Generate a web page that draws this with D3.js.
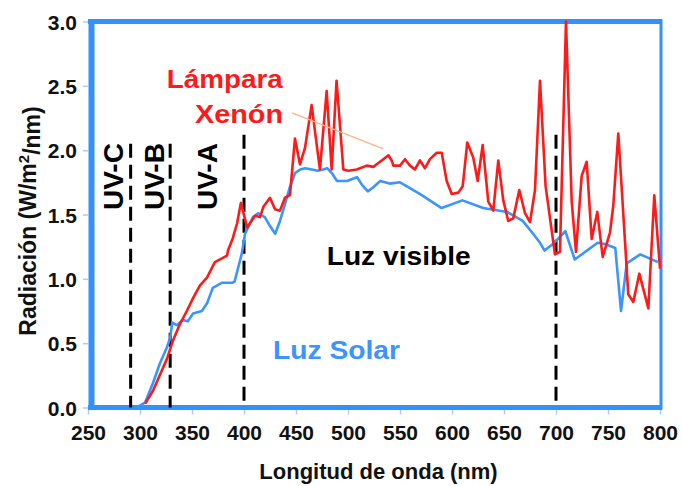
<!DOCTYPE html>
<html>
<head>
<meta charset="utf-8">
<script src="https://cdn.jsdelivr.net/npm/d3@7"></script>
<style>
  body { margin: 0; background: #fff; }
  text { font-family: "Liberation Sans", Arial, Helvetica, sans-serif; font-weight: bold; }
</style>
</head>
<body>
<svg id="chart" width="682" height="486"></svg>
<script>
// Solar spectrum (nm, W/m²/nm)
const solarNm = [297, 305, 312.5, 319, 326, 329, 331, 335.5, 341, 346, 351, 359.5, 364.5, 370, 379, 389, 391,
  398, 401, 404, 408.7, 413.5, 420, 425, 430, 434.6, 439.4, 444, 449, 454, 458.7, 465.4, 471, 476, 480,
  484.6, 489.4, 499, 508.7, 513.5, 519, 524, 531, 540, 550, 569, 590, 610, 630, 653, 668, 678, 684.6, 689,
  697, 709, 718, 740, 747, 757, 762.5, 768, 781, 798];
const solarVal = [0.00, 0.04, 0.19, 0.34, 0.47, 0.54, 0.66, 0.64, 0.68, 0.67, 0.73, 0.75, 0.81, 0.93, 0.97, 0.97, 0.98,
  1.20, 1.35, 1.40, 1.48, 1.51, 1.48, 1.41, 1.35, 1.45, 1.58, 1.71, 1.82, 1.85, 1.86, 1.85, 1.84, 1.85, 1.86,
  1.82, 1.76, 1.76, 1.79, 1.73, 1.68, 1.71, 1.76, 1.74, 1.75, 1.66, 1.55, 1.61, 1.55, 1.52, 1.45, 1.35, 1.28, 1.22,
  1.27, 1.37, 1.15, 1.28, 1.27, 1.24, 0.75, 1.12, 1.19, 1.13];

// Xenon lamp spectrum (nm, W/m²/nm)
const xenonNm = [305, 312.5, 319, 326, 331.7, 338.5, 345, 351, 357.7, 364.4, 372, 383.7, 384.6, 389.4, 393.3, 397,
  403, 410.6, 415.4, 418.6, 425, 429.8, 434.6, 439.4, 444.2, 449, 453.8, 458.7, 465, 473, 479.5, 484.3, 489,
  495.5, 500.3, 508.4, 518, 524.4, 527.6, 534, 538.8, 542, 543.6, 550, 554.8, 559.6, 564.4, 569.2, 574, 578.8,
  585.3, 590.1, 594.9, 599.7, 606.1, 610.3, 614.7, 620.5, 624.7, 629.5, 634.9, 639.7, 644.5, 649.3, 654.1,
  658.9, 664.7, 670.2, 675, 679.8, 684.6, 690, 699, 703.8, 709.6, 715.1, 719.2, 724.7, 729.5, 734.3, 739.7,
  744.9, 751.9, 755.1, 759.9, 769.5, 774.3, 780.1, 788.8, 794.5, 800];
const xenonVal = [0.03, 0.13, 0.25, 0.38, 0.52, 0.65, 0.75, 0.85, 0.95, 1.01, 1.13, 1.18, 1.22, 1.32, 1.43, 1.59,
  1.40, 1.49, 1.48, 1.56, 1.63, 1.54, 1.53, 1.63, 1.65, 2.09, 1.89, 2.02, 2.35, 1.85, 2.46, 1.85, 2.54,
  1.85, 1.84, 1.85, 1.88, 1.87, 1.89, 1.93, 1.96, 1.92, 1.88, 1.88, 1.93, 1.88, 1.85, 1.92, 1.86, 1.93,
  1.98, 1.98, 1.76, 1.66, 1.67, 1.72, 2.06, 1.94, 1.76, 2.04, 1.60, 1.53, 1.92, 1.61, 1.45,
  1.47, 1.69, 1.51, 1.44, 1.69, 2.54, 1.72, 1.19, 1.21, 3.00, 1.60, 1.21, 1.80, 1.91, 1.31, 1.52,
  1.17, 1.36, 1.57, 2.13, 0.88, 0.82, 1.04, 0.77, 1.65, 1.08];

const xTicks = [250, 300, 350, 400, 450, 500, 550, 600, 650, 700, 750, 800];
const yTicks = [0, 0.5, 1, 1.5, 2, 2.5, 3];

// Band boundaries (dashed) and their labels
const bandEdges = [291, 329, 400, 700];
const bandTops = [2.05, 2.05, 2.12, 2.12];
const bandNames = ["UV-C", "UV-B", "UV-A"];
const bandLabelNm = [274, 313.5, 364.4];
const bandLabelVal = 1.795;

const svg = d3.select("#chart");

const x = d3.scaleLinear().domain([250, 800]).range([88, 660]);
const y = d3.scaleLinear().domain([0, 3]).range([407.5, 21.5]);

const frameBlue = "#3290ff";
const tickBlue = "#a8ccff";

// Axis ticks and labels
const xAxis = d3.axisBottom(x).tickValues(xTicks).tickFormat(d3.format("d")).tickSize(5).tickPadding(10);
const gx = svg.append("g").attr("transform", `translate(0,${y(0) + 2})`).call(xAxis);
gx.select(".domain").remove();
gx.selectAll(".tick line").attr("stroke", tickBlue).attr("stroke-width", 1.5);
gx.selectAll(".tick text").attr("fill", "#111").style("font-size", "21px").attr("dy", "0.72em");

const yAxis = d3.axisLeft(y).tickValues(yTicks).tickFormat(d3.format(".1f")).tickSize(5).tickPadding(6);
const gy = svg.append("g").attr("transform", `translate(${x(250)},0)`).call(yAxis);
gy.select(".domain").remove();
gy.selectAll(".tick line").attr("stroke", tickBlue).attr("stroke-width", 1.5);
gy.selectAll(".tick text").attr("fill", "#111").style("font-size", "21px").attr("dy", "0.36em");

// Blue frame around the plot
const x0 = x(250), x1 = x(800), yT = y(3), yB = y(0);
svg.append("line").attr("x1", x0).attr("x2", x1 + 2).attr("y1", yT).attr("y2", yT)
  .attr("stroke", frameBlue).attr("stroke-width", 5);
svg.append("line").attr("x1", x1 + 1).attr("x2", x1 + 1).attr("y1", yT - 2).attr("y2", yB + 2)
  .attr("stroke", frameBlue).attr("stroke-width", 3);
svg.append("line").attr("x1", x0).attr("x2", x1 + 2).attr("y1", yB).attr("y2", yB)
  .attr("stroke", frameBlue).attr("stroke-width", 5);
svg.append("line").attr("x1", x0 + 3.5).attr("x2", x0 + 3.5).attr("y1", yT - 2.5).attr("y2", yB + 2.5)
  .attr("stroke", frameBlue).attr("stroke-width", 6);

// Dashed band boundaries
svg.append("g").selectAll("line").data(bandEdges).join("line")
  .attr("x1", d => x(d)).attr("x2", d => x(d))
  .attr("y1", (d, i) => y(bandTops[i])).attr("y2", yB)
  .attr("stroke", "#000").attr("stroke-width", 3)
  .attr("stroke-dasharray", "14,7");

// Band labels
svg.append("g").selectAll("text").data(bandNames).join("text")
  .attr("transform", (d, i) => `translate(${x(bandLabelNm[i])},${y(bandLabelVal)}) rotate(-90)`)
  .attr("text-anchor", "middle").attr("dy", "0.36em")
  .style("font-size", "28px").attr("fill", "#000")
  .text(d => d);

// Spectra
const line = d3.line().x(d => x(d[0])).y(d => y(d[1]));
const solar = solarNm.map((d, i) => [d, solarVal[i]]);
const xenon = xenonNm.map((d, i) => [d, xenonVal[i]]);

svg.append("path").datum(solar).attr("d", line)
  .attr("fill", "none").attr("stroke", "#3a95ff").attr("stroke-width", 2.6)
  .attr("stroke-linejoin", "round");
svg.append("path").datum(xenon).attr("d", line)
  .attr("fill", "none").attr("stroke", "#ff1a1a").attr("stroke-width", 2.6)
  .attr("stroke-linejoin", "round");

// Leader from the lamp label to its curve
svg.append("line")
  .attr("x1", x(446.2)).attr("y1", y(2.29)).attr("x2", x(534)).attr("y2", y(2.01))
  .attr("stroke", "#ffb48a").attr("stroke-width", 1.5);

// Series / region labels
svg.append("text").attr("x", x(325.7)).attr("y", y(2.48))
  .attr("fill", "#ff1a1a").style("font-size", "25px")
  .attr("textLength", 116).attr("lengthAdjust", "spacingAndGlyphs").text("Lámpara");
svg.append("text").attr("x", x(352.9)).attr("y", y(2.21))
  .attr("fill", "#ff1a1a").style("font-size", "25px")
  .attr("textLength", 88).attr("lengthAdjust", "spacingAndGlyphs").text("Xenón");
svg.append("text").attr("x", x(479.5)).attr("y", y(1.107))
  .attr("fill", "#000").style("font-size", "25px")
  .attr("textLength", 144).attr("lengthAdjust", "spacingAndGlyphs").text("Luz visible");
svg.append("text").attr("x", x(427.9)).attr("y", y(0.377))
  .attr("fill", "#3a95ff").style("font-size", "26.5px")
  .attr("textLength", 127).attr("lengthAdjust", "spacingAndGlyphs").text("Luz Solar");

// Axis titles
svg.append("text").attr("x", 378.5).attr("y", 479)
  .attr("text-anchor", "middle").attr("fill", "#111").style("font-size", "22px")
  .text("Longitud de onda (nm)");

const yTitle = svg.append("text")
  .attr("transform", "translate(36,221) rotate(-90)")
  .attr("text-anchor", "middle").attr("fill", "#111").style("font-size", "23px");
yTitle.append("tspan").text("Radiación (W/m");
yTitle.append("tspan").attr("dy", "-0.45em").style("font-size", "15px").text("2");
yTitle.append("tspan").attr("dy", "0.45em").text("/nm)");
</script>
</body>
</html>
